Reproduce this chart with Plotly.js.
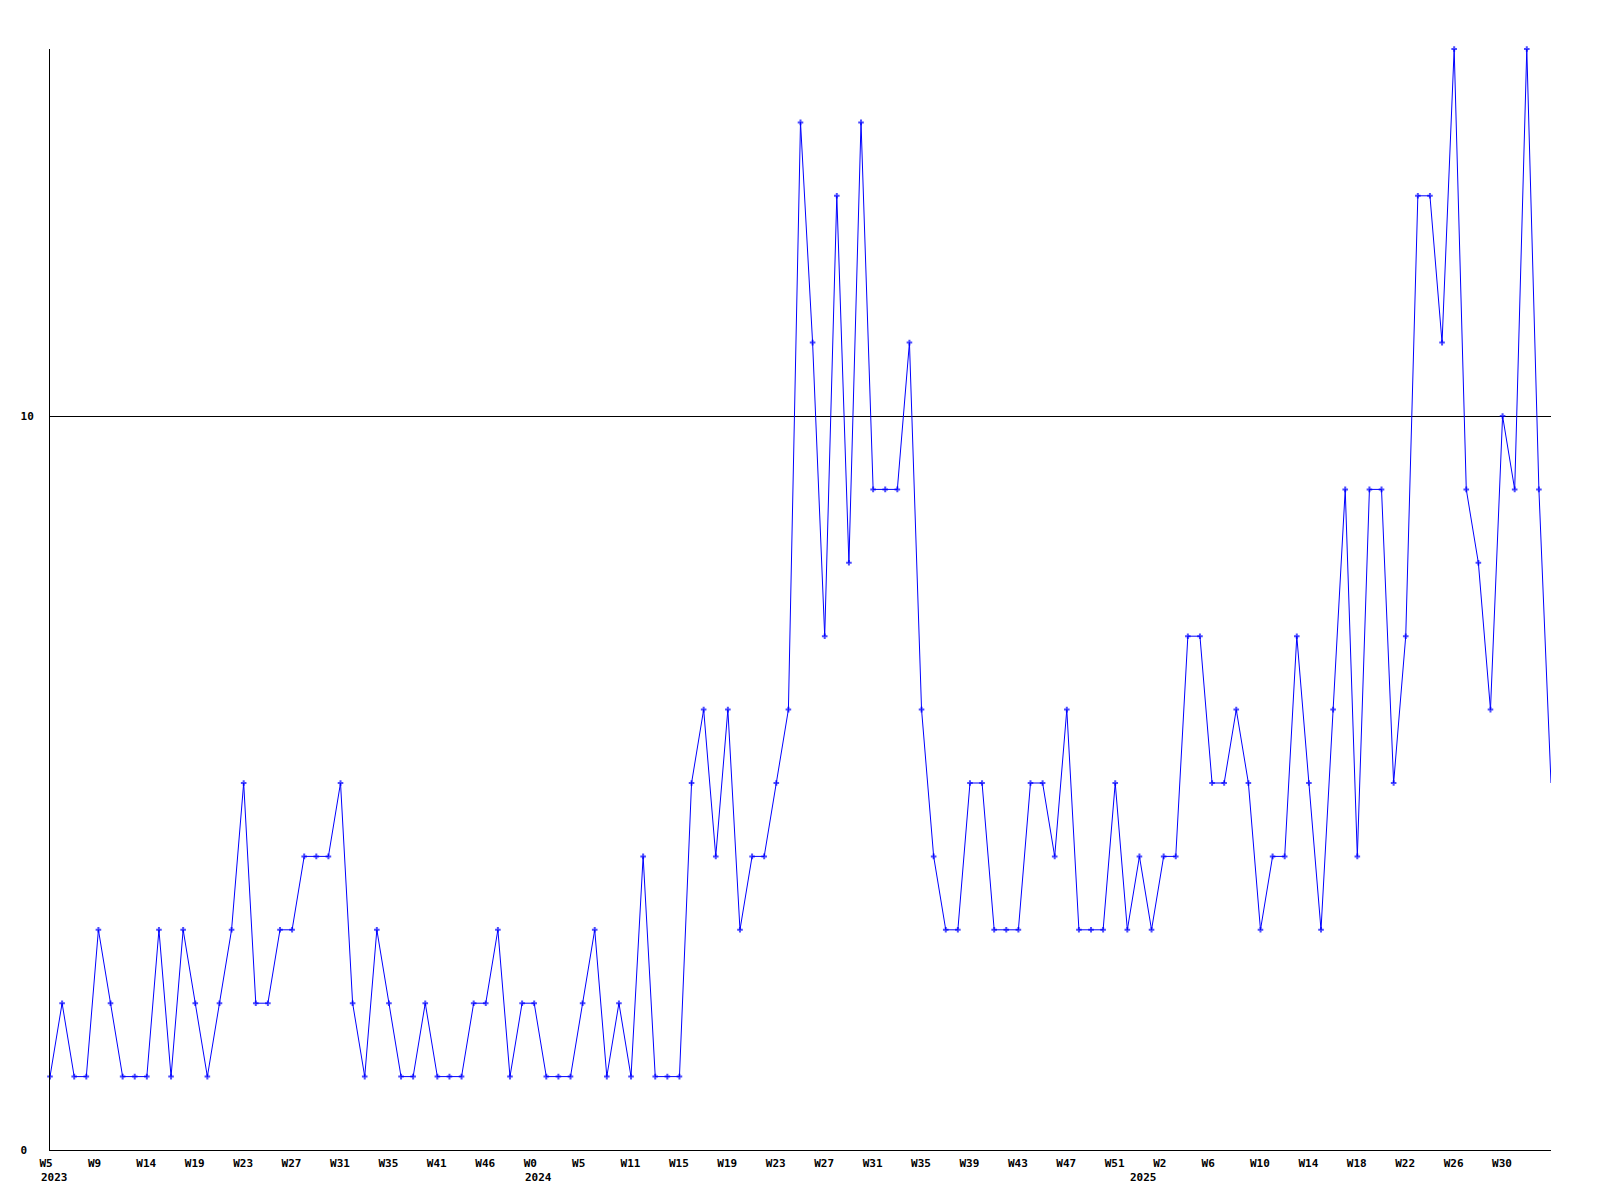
<!DOCTYPE html>
<html>
<head>
<meta charset="utf-8">
<script src="https://cdn.plot.ly/plotly-3.0.1.min.js"></script>
<style>
html,body{margin:0;padding:0;background:#fff;}
#chart{width:1600px;height:1200px;}
</style>
</head>
<body>
<div id="chart"></div>
<script>
// Weekly counts, one value per week (index 0 = W5 2023)
const values = [
  1, 2, 1, 1, 3, 2, 1, 1, 1, 3,
  1, 3, 2, 1, 2, 3, 5, 2, 2, 3,
  3, 4, 4, 4, 5, 2, 1, 3, 2, 1,
  1, 2, 1, 1, 1, 2, 2, 3, 1, 2,
  2, 1, 1, 1, 2, 3, 1, 2, 1, 4,
  1, 1, 1, 5, 6, 4, 6, 3, 4, 4,
  5, 6, 14, 11, 7, 13, 8, 14, 9, 9,
  9, 11, 6, 4, 3, 3, 5, 5, 3, 3,
  3, 5, 5, 4, 6, 3, 3, 3, 5, 3,
  4, 3, 4, 4, 7, 7, 5, 5, 6, 5,
  3, 4, 4, 7, 5, 3, 6, 9, 4, 9,
  9, 5, 7, 13, 13, 11, 15, 9, 8, 6,
  10, 9, 15, 9, 5
];
// Week tick labels, one every four points
const weekTickIndex = [0,4,8,12,16,20,24,28,32,36,40,44,48,52,56,60,64,68,72,76,80,84,88,92,96,100,104,108,112,116,120];
const weekTickLabels = ["W5","W9","W14","W19","W23","W27","W31","W35","W41","W46","W0","W5","W11","W15","W19","W23","W27","W31","W35","W39","W43","W47","W51","W2","W6","W10","W14","W18","W22","W26","W30"];
// Year labels and the point where each year begins
const yearIndex = [0, 40, 90];
const yearLabels = ["2023", "2024", "2025"];
const yTicks = [0, 10];
const yTickLabels = ["0\u00a0", "10"];

const xs = values.map((v, i) => i);
const markerSizes = values.map((v, i) => i === values.length - 1 ? 0 : 4);

const font = {family: "DejaVu Sans Mono, Liberation Mono, monospace", size: 11, color: "#000"};

const trace = {
  x: xs,
  y: values,
  type: "scatter",
  mode: "lines+markers",
  line: {color: "#0000ff", width: 1},
  marker: {symbol: "cross-thin", size: markerSizes, color: "#0000ff", line: {color: "#0000ff", width: 2}},
  cliponaxis: false,
  hoverinfo: "x+y"
};

const annotations = yearIndex.map((xi, k) => ({
  x: xi, xref: "x",
  y: 0, yref: "paper",
  yanchor: "top", xanchor: "left",
  xshift: -11, yshift: -19,
  text: "<b>" + yearLabels[k] + "</b>",
  showarrow: false,
  font: font
}));

const layout = {
  width: 1600, height: 1200,
  paper_bgcolor: "#fff", plot_bgcolor: "#fff",
  margin: {l: 50, r: 49, t: 49, b: 50},
  showlegend: false,
  font: font,
  xaxis: {
    range: [0, values.length - 1],
    tickmode: "array",
    tickvals: weekTickIndex,
    ticktext: weekTickLabels.map(t => "<b>" + t + "</b>"),
    ticks: "",
    showgrid: false,
    zeroline: false,
    showline: true, linecolor: "#000", linewidth: 1,
    ticklabelposition: "outside right",
    ticklabelshift: -11,
    ticklabelstandoff: 3,
    tickfont: font,
    fixedrange: true
  },
  yaxis: {
    range: [0, 15],
    tickmode: "array",
    tickvals: yTicks,
    ticktext: yTickLabels.map(t => "<b>" + t + "</b>"),
    ticks: "",
    showgrid: true, gridcolor: "#000", gridwidth: 1,
    zeroline: false,
    showline: true, linecolor: "#000", linewidth: 1,
    ticklabelstandoff: 13,
    tickfont: font,
    fixedrange: true
  },
  annotations: annotations
};

Plotly.newPlot("chart", [trace], layout, {displayModeBar: false, staticPlot: true});
</script>
</body>
</html>
